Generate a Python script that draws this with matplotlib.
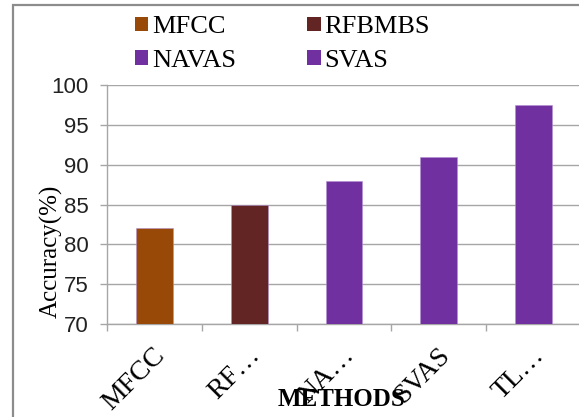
import matplotlib
matplotlib.use("Agg")
import matplotlib.pyplot as plt
from matplotlib.patches import Patch, Rectangle
import matplotlib.transforms as mtrans

categories = ["MFCC", "RF…", "NA…", "SVAS", "TL…"]
values = [82, 85, 88, 91, 97.5]
bar_colors = ["#984807", "#632523", "#7030A0", "#7030A0", "#7030A0"]
legend_labels = ["MFCC", "RFBMBS", "NAVAS", "SVAS"]
legend_colors = ["#984807", "#632523", "#7030A0", "#7030A0"]
yticks = [70, 75, 80, 85, 90, 95, 100]

W, H = 579, 417
fig = plt.figure(figsize=(W / 100, H / 100), dpi=100)
fig.patch.set_facecolor("white")

# outer chart border
fig.patches.append(Rectangle((13 / W, -0.05), 1.1, 1 - 5 / H + 0.05,
                             transform=fig.transFigure, fill=False,
                             edgecolor="#8c8c8c", linewidth=1.6, zorder=0))

left, right, top, bottom = 107, 581, 85, 324
ax = fig.add_axes([left / W, (H - bottom) / H, (right - left) / W, (bottom - top) / H])

x = list(range(len(categories)))
ax.bar(x, values, width=0.39, color=bar_colors, zorder=3,
       edgecolor="#b28fcf", linewidth=0.4)
ax.set_xlim(-0.5, len(categories) - 0.5)
ax.set_ylim(70, 100)
ax.set_yticks(yticks)
ax.set_yticklabels([str(v) for v in yticks], family="Liberation Sans",
                   fontsize=16, color="#222222")
ax.yaxis.grid(True, color="#a6a6a6", linewidth=1.0, zorder=0)
ax.set_axisbelow(True)

for s in ["top", "right"]:
    ax.spines[s].set_visible(False)
for s in ["left", "bottom"]:
    ax.spines[s].set_color("#a6a6a6")
    ax.spines[s].set_linewidth(1.0)

ax.tick_params(axis="y", length=5, width=1.0, color="#a6a6a6", pad=8)
# x ticks at category boundaries
ax.set_xticks([i - 0.5 for i in range(len(categories) + 1)])
ax.set_xticklabels([])
ax.tick_params(axis="x", which="major", length=5, width=1.0, color="#a6a6a6")
ax.set_xticks(x, minor=True)
ax.set_xticklabels(categories, minor=True, family="Liberation Serif",
                   fontsize=20, rotation=45, ha="right", va="center",
                   rotation_mode="anchor")
ax.tick_params(axis="x", which="minor", length=0, pad=20)
offset = mtrans.ScaledTranslation(7 / 100, 0, fig.dpi_scale_trans)
for lab in ax.get_xticklabels(minor=True):
    lab.set_transform(lab.get_transform() + offset)

fig.text(342 / W, 1 - 399 / H, "METHODS", family="Liberation Serif",
         fontsize=18, fontweight="bold", ha="center", va="center")
fig.text(51 / W, 1 - 251 / H, "Accuracy(%)", family="Liberation Serif",
         fontsize=18, rotation=90, ha="center", va="center")

# legend fills column-first; reorder so rows read MFCC, RFBMBS / NAVAS, SVAS
order = [0, 2, 1, 3]
handles = [Patch(facecolor=legend_colors[i], edgecolor="none") for i in order]
labels = [legend_labels[i] for i in order]
fig.legend(handles, labels, loc="upper left",
           bbox_to_anchor=(135 / W, 1 - 16 / H), ncol=2, frameon=False,
           prop={"family": "Liberation Serif", "size": 19},
           handlelength=0.5, handleheight=0.45, handletextpad=0.15,
           columnspacing=2.7, labelspacing=0.45, borderpad=0, borderaxespad=0)

fig.savefig("out.png", dpi=100)
